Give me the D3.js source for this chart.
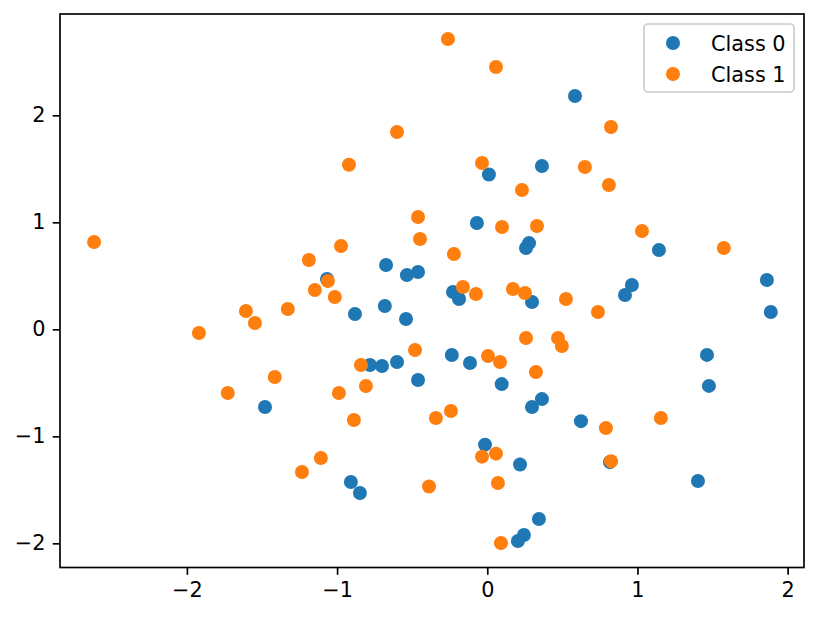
<!DOCTYPE html>
<html>
<head>
<meta charset="utf-8">
<script src="https://cdn.jsdelivr.net/npm/d3@7"></script>
<style>
    body { margin: 0; background: #fff; }
    text { font-family: "DejaVu Sans", sans-serif; }
</style>
</head>
<body>
<div id="chart"></div>
<script>
// values
const classNames = ["Class 0", "Class 1"];
const class0X = [0.584, 0.011, 0.364, -0.069, 0.258, 0.278, 1.143, -1.067, -0.674, -0.535, -0.461,
    -0.228, -0.188, 0.298, 0.963, 0.917, 1.862, 1.888, -0.881, -0.682, -0.541, -0.236, -0.115,
    -0.781, -0.701, -0.601, -0.461, 0.096, 1.463, 1.476, -1.480, 0.364, 0.298, 0.624, -0.015,
    0.218, 0.817, 1.403, -0.908, -0.848, 0.344, 0.244, 0.204];
const class0Y = [2.180, 1.447, 1.526, 0.993, 0.760, 0.806, 0.741, 0.470, 0.601, 0.507, 0.536,
    0.349, 0.283, 0.255, 0.414, 0.321, 0.461, 0.162, 0.143, 0.218, 0.096, -0.240, -0.315,
    -0.333, -0.343, -0.306, -0.474, -0.512, -0.239, -0.529, -0.726, -0.652, -0.726, -0.858, -1.078,
    -1.264, -1.240, -1.418, -1.427, -1.530, -1.773, -1.922, -1.979];
const class1X = [-0.262, 0.058, -0.601, -0.921, -0.035, 0.231, 0.824, 0.650, 0.810, -0.461, 0.098,
    0.331, 1.030, 1.575, -0.448, -0.974, -0.222, -1.188, -2.618, -1.061, -1.148, -1.015, -0.162,
    -0.075, 0.171, 0.251, 0.524, 0.737, -1.607, -1.547, -1.328, -1.920, -0.841, -0.481, 0.005,
    0.085, 0.258, 0.471, 0.497, 0.324, -1.415, -1.728, -0.988, -0.808, -0.888, -0.342, -0.242,
    0.790, 1.156, 0.824, -0.035, 0.058, -1.108, -1.234, -0.388, 0.071, 0.091];
const class1Y = [2.713, 2.451, 1.844, 1.538, 1.554, 1.302, 1.891, 1.517, 1.349, 1.050, 0.956,
    0.965, 0.919, 0.760, 0.844, 0.779, 0.704, 0.648, 0.816, 0.451, 0.367, 0.302, 0.396,
    0.330, 0.377, 0.339, 0.283, 0.162, 0.171, 0.059, 0.190, -0.035, -0.334, -0.193, -0.250,
    -0.306, -0.081, -0.081, -0.156, -0.399, -0.445, -0.595, -0.595, -0.530, -0.848, -0.829, -0.764,
    -0.923, -0.829, -1.232, -1.190, -1.162, -1.203, -1.334, -1.469, -1.436, -1.997];
const xTicks = [-2, -1, 0, 1, 2];
const yTicks = [-2, -1, 0, 1, 2];
const xDomain = [-2.845, 2.109];
const yDomain = [-2.226, 2.947];

(function () {
    let width = 819, height = 618;
    let margin = {left: 60, top: 14, right: 15, bottom: 50.5};
    let w = width - margin.left - margin.right;
    let h = height - margin.top - margin.bottom;
    let color = ["#1f77b4", "#ff7f0e"];
    let fontSize = 20.8, tickLen = 7.3;

    let svg = d3.select("#chart")
        .append("svg")
        .attr("width", width)
        .attr("height", height);
    svg.append("rect")
        .attr("width", width)
        .attr("height", height)
        .attr("fill", "#fff");

    let g = svg.append("g")
        .attr("transform", `translate(${margin.left},${margin.top})`);

    let x = d3.scaleLinear().domain(xDomain).range([0, w]);
    let y = d3.scaleLinear().domain(yDomain).range([h, 0]);

    let series = [
        class0X.map((v, i) => ({x: v, y: class0Y[i]})),
        class1X.map((v, i) => ({x: v, y: class1Y[i]}))
    ];
    series.forEach((pts, k) => {
        g.append("g")
            .selectAll("circle")
            .data(pts)
            .enter()
            .append("circle")
            .attr("cx", d => x(d.x))
            .attr("cy", d => y(d.y))
            .attr("r", 7)
            .attr("fill", color[k]);
    });

    let fmt = d3.format("d");
    let xAxis = g.append("g")
        .attr("transform", `translate(0,${h})`)
        .call(d3.axisBottom(x).tickValues(xTicks).tickFormat(fmt)
            .tickSize(tickLen).tickPadding(7.3).tickSizeOuter(0));
    let yAxis = g.append("g")
        .call(d3.axisLeft(y).tickValues(yTicks).tickFormat(fmt)
            .tickSize(tickLen).tickPadding(7.3).tickSizeOuter(0));
    [xAxis, yAxis].forEach(a => {
        a.select(".domain").remove();
        a.selectAll("line").attr("stroke", "#000").attr("stroke-width", 1.67);
        a.selectAll("text")
            .attr("font-size", fontSize)
            .attr("font-family", "DejaVu Sans")
            .attr("fill", "#000");
    });

    // frame
    g.append("rect")
        .attr("width", w)
        .attr("height", h)
        .attr("fill", "none")
        .attr("stroke", "#000")
        .attr("stroke-width", 1.67);

    // legend
    let lg = svg.append("g").attr("transform", "translate(644,24)");
    lg.append("rect")
        .attr("width", 150)
        .attr("height", 68)
        .attr("rx", 4)
        .attr("fill", "#fff")
        .attr("fill-opacity", 0.8)
        .attr("stroke", "#cccccc")
        .attr("stroke-width", 1.67);
    let items = lg.selectAll("g.item")
        .data(classNames)
        .enter()
        .append("g")
        .attr("transform", (_, i) => `translate(0,${19 + i * 31})`);
    items.append("circle")
        .attr("cx", 29)
        .attr("cy", 0)
        .attr("r", 7)
        .attr("fill", (_, i) => color[i]);
    items.append("text")
        .attr("x", 67)
        .attr("y", 7.5)
        .attr("font-size", fontSize)
        .attr("fill", "#000")
        .text(d => d);
})();
</script>
</body>
</html>
